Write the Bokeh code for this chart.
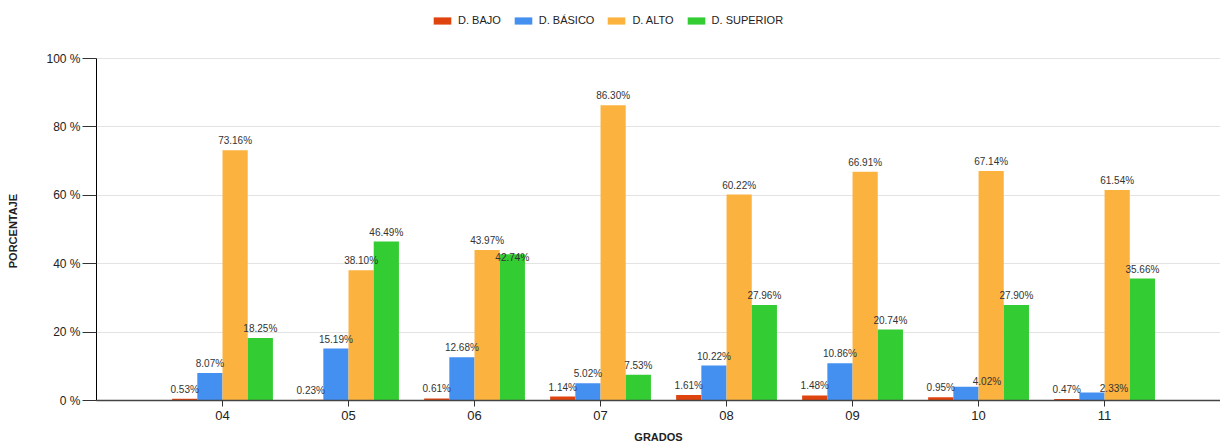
from bokeh.plotting import figure
from bokeh.models import (Range1d, FixedTicker, Legend, LegendItem, ColumnDataSource)
from bokeh.core.properties import value
from bokeh.embed import file_html
from bokeh.resources import INLINE

grados = ["04", "05", "06", "07", "08", "09", "10", "11"]
series = ["D. BAJO", "D. BÁSICO", "D. ALTO", "D. SUPERIOR"]
bajo = [0.53, 0.23, 0.61, 1.14, 1.61, 1.48, 0.95, 0.47]
basico = [8.07, 15.19, 12.68, 5.02, 10.22, 10.86, 4.02, 2.33]
alto = [73.16, 38.10, 43.97, 86.30, 60.22, 66.91, 67.14, 61.54]
superior = [18.25, 46.49, 42.74, 7.53, 27.96, 20.74, 27.90, 35.66]
y_ticks = [0, 20, 40, 60, 80, 100]

colors = ["#E0440E", "#4390F0", "#FBB23F", "#33CC33"]
values = [bajo, basico, alto, superior]
offsets = [-0.3, -0.1, 0.1, 0.3]
# label nudges (pixels) for overlapping annotations: (grade index, series index) -> (dx, dy)
nudges = {(2, 3): (0, 13), (6, 1): (21, 4), (7, 1): (22, 5)}

FONT = "Liberation Sans"
NBSP = "\u00a0"

# frame spans full height above the x axis; 100 % sits 58 px below the top
p = figure(width=1220, height=447, x_range=Range1d(-1, 7.92), y_range=Range1d(0, 116.96),
           output_backend="svg", toolbar_location=None,
           min_border_left=96, min_border_right=0, min_border_top=0, min_border_bottom=47)
p.outline_line_color = None
p.background_fill_color = "white"
p.border_fill_color = "white"

xs_idx = list(range(len(grados)))
items = []
label_srcs = []
for s, (name, vals, col, off) in enumerate(zip(series, values, colors, offsets)):
    xs = [i + off for i in xs_idx]
    r = p.vbar(x=xs, top=vals, width=0.2, bottom=0, fill_color=col, line_color=None)
    items.append(LegendItem(label=name, renderers=[r]))
    dx = [nudges.get((i, s), (0, 0))[0] for i in xs_idx]
    dy = [-4 + nudges.get((i, s), (0, 0))[1] for i in xs_idx]
    label_srcs.append(ColumnDataSource(dict(x=xs, y=vals, t=["%.2f%%" % v for v in vals], dx=dx, dy=dy)))

for src in label_srcs:
    p.text(x="x", y="y", text="t", source=src, x_offset="dx", y_offset="dy",
           text_align="center", text_baseline="bottom", text_font=value(FONT),
           text_font_size="10px", text_color="#333333")

legend = Legend(items=items, orientation="horizontal", location=(335, 374),
                glyph_width=22, glyph_height=9, label_height=12, label_standoff=5,
                spacing=11, padding=2, margin=0,
                label_text_font=FONT, label_text_font_size="11px", label_text_color="#222222",
                border_line_color=None, background_fill_alpha=0)
p.add_layout(legend, "center")

# y axis
ya = p.yaxis[0]
ya.bounds = (0, 100)
ya.ticker = FixedTicker(ticks=y_ticks)
ya.major_label_overrides = {t: "%d %%" % t for t in y_ticks}
ya.major_tick_out = 14
ya.major_tick_in = 0
ya.minor_tick_out = 0
ya.minor_tick_in = 0
ya.major_tick_line_color = "#333333"
ya.axis_line_color = "#000000"
ya.major_label_standoff = 2
ya.major_label_text_font = FONT
ya.major_label_text_font_size = "12px"
ya.major_label_text_color = "#222222"
# trailing no-break spaces centre the visible title on the 0-100 span
ya.axis_label = "PORCENTAJE" + NBSP * 20
ya.axis_label_text_font = FONT
ya.axis_label_text_font_size = "11px"
ya.axis_label_text_font_style = "bold"
ya.axis_label_text_color = "#222222"
ya.axis_label_standoff = 24

# x axis
xa = p.xaxis[0]
xa.ticker = FixedTicker(ticks=xs_idx)
xa.major_label_overrides = {i: g for i, g in enumerate(grados)}
xa.major_tick_out = 6
xa.major_tick_in = 0
xa.minor_tick_out = 0
xa.minor_tick_in = 0
xa.major_tick_line_color = "#333333"
xa.axis_line_color = "#444444"
xa.axis_line_width = 1.5
xa.major_label_standoff = 4
xa.major_label_text_font = FONT
xa.major_label_text_font_size = "13px"
xa.major_label_text_color = "#222222"
xa.axis_label = "GRADOS"
xa.axis_label_text_font = FONT
xa.axis_label_text_font_size = "11px"
xa.axis_label_text_font_style = "bold"
xa.axis_label_text_color = "#222222"
xa.axis_label_standoff = 8

p.xgrid.grid_line_color = None
p.ygrid.ticker = FixedTicker(ticks=y_ticks[1:])
p.ygrid.grid_line_color = "#E3E3E3"
p.ygrid.grid_line_width = 1

open("out.html", "w").write(file_html(p, INLINE))
